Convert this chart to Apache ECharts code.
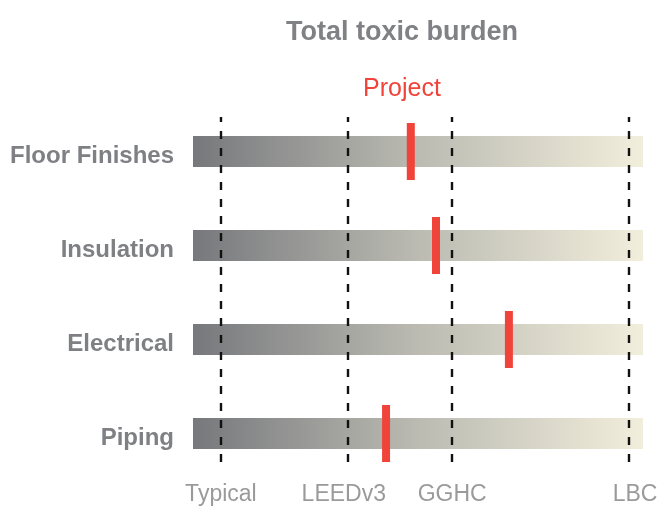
<!DOCTYPE html>
<html lang="en">

<head>
    <meta charset="UTF-8">
    <title>Total toxic burden</title>
    <style>
        html, body { margin: 0; padding: 0; background: #fff; }
    </style>
</head>

<body>

    <div id="main" style="width: 660px; height: 508px;"></div>

    <script src="https://cdn.jsdelivr.net/npm/echarts@6.0.0/dist/echarts.min.js"></script>
    <script>
        // material categories, top to bottom
        const categories = ['Floor Finishes', 'Insulation', 'Electrical', 'Piping']
        // full length of each track (scale 0 - 100)
        const trackValues = [100, 100, 100, 100]
        // project score per category
        const projectScores = [48.4, 54.0, 70.2, 42.9]
        // benchmark reference lines
        const benchmarkNames = ['Typical', 'LEEDv3', 'GGHC', 'LBC']
        const benchmarkScores = [6.2, 34.4, 57.6, 96.9]

        const font = 'Liberation Sans, Arial, sans-serif'
        const red = '#f0443a'
        // small horizontal nudges of the benchmark labels (px)
        const labelNudge = { LEEDv3: -4, LBC: 6 }

        const myChart = echarts.init(document.getElementById('main'))

        let markers = []
        for (let i = 0; i < categories.length; i++) {
            markers.push([projectScores[i], i])
        }

        let lines = []
        for (let i = 0; i < benchmarkNames.length; i++) {
            let name = benchmarkNames[i]
            lines.push({
                name: name,
                xAxis: benchmarkScores[i],
                label: { offset: [labelNudge[name] || 0, 0] }
            })
        }

        const option = {
            animation: false,
            title: [{
                text: 'Total toxic burden',
                left: 402,
                top: 19,
                textAlign: 'center',
                padding: 0,
                textStyle: { fontFamily: font, fontSize: 27, fontWeight: 'bold', color: '#808184' }
            }, {
                text: 'Project',
                left: 402,
                top: 77,
                textAlign: 'center',
                padding: 0,
                textStyle: { fontFamily: font, fontSize: 25, fontWeight: 'normal', color: red }
            }],

            // grid 0: tracks + markers, grid 1: benchmark lines
            grid: [{
                left: 193, right: 17, top: 104.5, height: 376
            }, {
                left: 193, right: 17, top: 117, height: 345
            }],

            xAxis: [{
                gridIndex: 0, type: 'value', min: 0, max: 100, show: false
            }, {
                gridIndex: 1, type: 'value', min: 0, max: 100, show: false
            }],

            yAxis: [{
                gridIndex: 0,
                type: 'category',
                data: categories,
                inverse: true,
                axisLine: { show: false },
                axisTick: { show: false },
                splitLine: { show: false },
                axisLabel: {
                    margin: 19,
                    formatter: v => '{c|' + v + '}',
                    rich: {
                        c: {
                            fontFamily: font,
                            fontSize: 24,
                            fontWeight: 'bold',
                            color: '#7f8084',
                            padding: [9, 0, 0, 0]
                        }
                    }
                }
            }, {
                gridIndex: 1, type: 'value', min: 0, max: 1, show: false
            }],

            series: [{
                type: 'bar',
                xAxisIndex: 0,
                yAxisIndex: 0,
                data: trackValues,
                barWidth: 31,
                z: 1,
                itemStyle: {
                    color: new echarts.graphic.LinearGradient(0, 0, 1, 0, [
                        { offset: 0, color: '#77787c' },
                        { offset: 0.5, color: '#bbbbb2' },
                        { offset: 1, color: '#f2eedc' }
                    ])
                }
            }, {
                type: 'line',
                xAxisIndex: 1,
                yAxisIndex: 1,
                data: [],
                z: 2,
                markLine: {
                    silent: true,
                    symbol: 'none',
                    lineStyle: { color: '#111', width: 2.4, type: [8, 9] },
                    label: {
                        show: true,
                        position: 'start',
                        distance: 21,
                        formatter: '{b}',
                        fontFamily: font,
                        fontSize: 23,
                        color: '#9a9a9a'
                    },
                    data: lines
                }
            }, {
                type: 'scatter',
                xAxisIndex: 0,
                yAxisIndex: 0,
                data: markers,
                symbol: 'rect',
                symbolSize: [8, 57],
                z: 3,
                itemStyle: { color: red, opacity: 1 }
            }]
        }

        myChart.setOption(option)
    </script>
</body>

</html>
